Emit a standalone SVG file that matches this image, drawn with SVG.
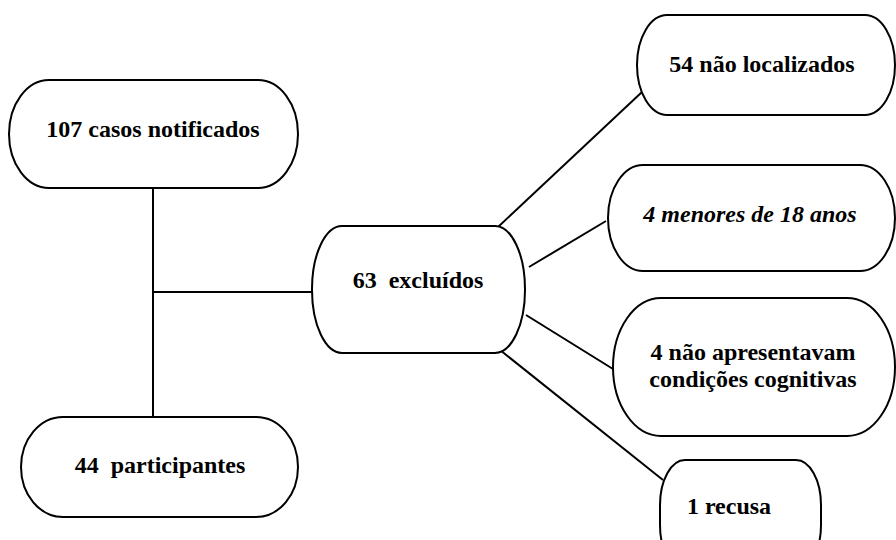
<svg xmlns="http://www.w3.org/2000/svg" width="896" height="540" viewBox="0 0 896 540">
<style>
.box{fill:#fff;stroke:#000;stroke-width:2}
.ln{stroke:#000;stroke-width:2;fill:none}
.t{font-family:'Liberation Serif','Times New Roman',serif;font-weight:bold;font-size:24px;fill:#000;text-anchor:middle}
.it{font-style:italic}
</style>
<rect width="896" height="540" fill="#fff"/>
<g id="connectors">
<line class="ln" x1="153" y1="188" x2="153" y2="417"/>
<line class="ln" x1="153" y1="292" x2="312" y2="292"/>
<line class="ln" x1="498" y1="227" x2="642" y2="92"/>
<line class="ln" x1="529" y1="267" x2="606" y2="221"/>
<line class="ln" x1="526" y1="315" x2="613" y2="369"/>
<line class="ln" x1="500" y1="350" x2="663" y2="480"/>
</g>
<g id="n107">
<rect class="box" x="9" y="80" width="289" height="108" rx="40" ry="54"/>
<text class="t" x="153" y="137">107 casos notificados</text>
</g>
<g id="n44">
<rect class="box" x="21" y="417" width="277" height="100" rx="42" ry="50"/>
<text class="t" x="160" y="473" xml:space="preserve">44  participantes</text>
</g>
<g id="n63">
<rect class="box" x="312" y="226" width="213" height="127" rx="30" ry="63"/>
<text class="t" x="418" y="288" xml:space="preserve">63  excluídos</text>
</g>
<g id="n54">
<rect class="box" x="637" y="15" width="258" height="100" rx="30" ry="50"/>
<text class="t" x="762" y="72">54 não localizados</text>
</g>
<g id="n4m">
<rect class="box" x="608" y="165" width="287" height="106" rx="35" ry="53"/>
<text class="t it" x="750" y="222">4 menores de 18 anos</text>
</g>
<g id="n4c">
<rect class="box" x="613" y="298" width="282" height="138" rx="48" ry="69"/>
<text class="t" x="753" y="360">4 não apresentavam</text>
<text class="t" x="753" y="387">condições cognitivas</text>
</g>
<g id="n1">
<rect class="box" x="660" y="460" width="161" height="110" rx="25" ry="45"/>
<text class="t" x="729" y="514">1 recusa</text>
</g>
</svg>
